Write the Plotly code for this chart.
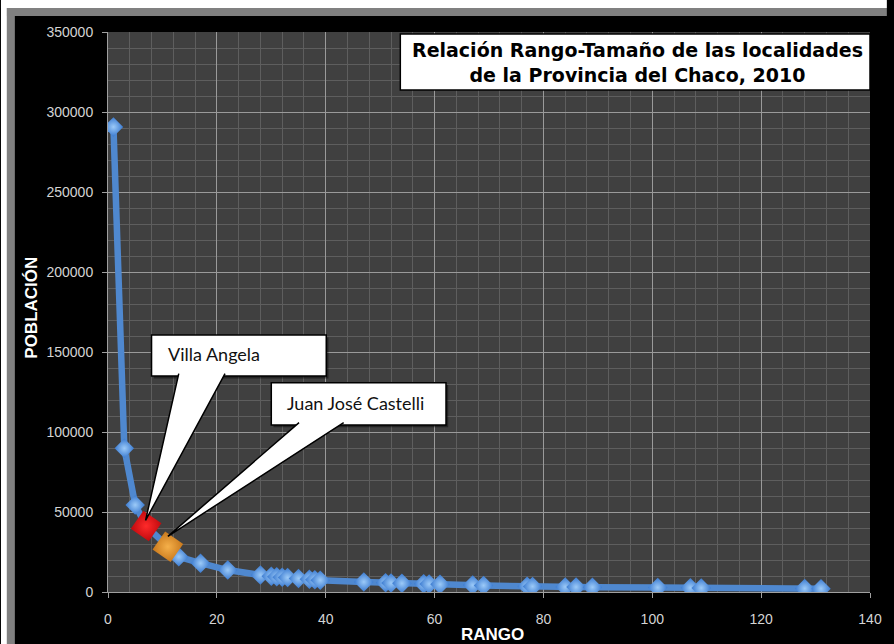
import plotly.graph_objects as go

# Rank-size data for the localities of Chaco province (2010)
rango = [1, 3, 5, 7, 11, 13, 17, 22, 28, 30, 31, 32, 33, 35, 37, 38, 39,
         47, 51, 52, 54, 58, 59, 61, 67, 69, 77, 78, 84, 86, 89, 101, 107,
         109, 128, 131]
poblacion = [290700, 89800, 54400, 41250, 28300, 22000, 18000, 13700, 10600,
             9800, 9500, 9200, 9000, 8500, 8000, 7700, 7400, 6300, 5800, 5600,
             5400, 5100, 5000, 4800, 4300, 4100, 3600, 3500, 3200, 3100, 3000,
             2800, 2600, 2500, 2200, 2100]

# Highlighted localities
destacadas = ["Villa Angela", "Juan José Castelli"]
destacadas_rango = [7, 11]
destacadas_pob = [41250, 28300]
destacadas_color = ["#ff2a2a", "#f5b04a"]
destacadas_sombra = ["#c00a0e", "#c8781c"]

x_ticks = [0, 20, 40, 60, 80, 100, 120, 140]
y_ticks = [0, 50000, 100000, 150000, 200000, 250000, 300000, 350000]

W, H = 894, 644
ML, MR, MT, MB = 108, 17, 32, 52


def px(x):
    return (x - ML) / (W - ML - MR)


def py(y):
    return (H - MB - y) / (H - MT - MB)


fig = go.Figure()

fig.add_trace(go.Scatter(
    x=rango, y=poblacion, mode="lines+markers",
    line=dict(color="#4f88cf", width=6.5),
    marker=dict(symbol="diamond", size=15, color="#3a7ad0",
                gradient=dict(type="radial", color="#9ccaf8"),
                line=dict(width=0)),
    showlegend=False, hoverinfo="x+y"))

for nombre, xr, yr, c, s in zip(destacadas, destacadas_rango, destacadas_pob,
                                destacadas_color, destacadas_sombra):
    fig.add_trace(go.Scatter(
        x=[xr], y=[yr], mode="markers", name=nombre,
        marker=dict(symbol="square", size=22, angle=35, color=s,
                    gradient=dict(type="radial", color=c),
                    line=dict(width=0)),
        showlegend=False))

shapes = []
annotations = []

# Callouts: box (data coords) + wedge pointing at the marker
callouts = [
    dict(texto=destacadas[0], x0=8.0, x1=40.1, y0=135000, y1=160600,
         b0=13.0, b1=21.5, tip=(destacadas_rango[0] - 0.1, destacadas_pob[0] + 3500)),
    dict(texto=destacadas[1], x0=30.0, x1=62.1, y0=104400, y1=130800,
         b0=35.1, b1=43.3, tip=(destacadas_rango[1], destacadas_pob[1] + 6500)),
]
for c in callouts:
    shapes.append(dict(type="rect", xref="x", yref="y", x0=c["x0"] + 0.4,
                       x1=c["x1"] + 0.4, y0=c["y0"] - 1500, y1=c["y1"] - 1500,
                       fillcolor="rgba(0,0,0,0.45)", line=dict(width=0)))
    shapes.append(dict(type="rect", xref="x", yref="y", x0=c["x0"], x1=c["x1"],
                       y0=c["y0"], y1=c["y1"], fillcolor="white",
                       line=dict(color="black", width=1.5)))
    yb = c["y0"] + 1500
    tx, ty = c["tip"]
    shapes.append(dict(type="path", xref="x", yref="y",
                       path=f"M {c['b0']} {yb} L {tx} {ty} L {c['b1']} {yb}",
                       fillcolor="white", line=dict(color="black", width=1.5)))
    annotations.append(dict(xref="x", yref="y", x=c["x0"] + 2.6,
                            y=(c["y0"] + c["y1"]) / 2 + 800, text=c["texto"],
                            showarrow=False, xanchor="left", yanchor="middle",
                            font=dict(family="Lato", size=18, color="#111111")))

# Title box
shapes.append(dict(type="rect", xref="paper", yref="paper", x0=px(403), x1=px(877),
                   y0=py(90), y1=py(34), fillcolor="white",
                   line=dict(color="black", width=1.5)))
annotations.append(dict(xref="paper", yref="paper", x=px(642), y=py(62),
                        text="<b>Relación Rango-Tamaño de las localidades<br>de la Provincia del Chaco, 2010</b>",
                        showarrow=False, xanchor="center", yanchor="middle",
                        font=dict(family="DejaVu Sans", size=19, color="black"),
                        align="center"))

# Axis titles
annotations.append(dict(xref="paper", yref="paper", x=px(496), y=py(634),
                        text="<b>RANGO</b>", showarrow=False, xanchor="center",
                        yanchor="middle",
                        font=dict(family="Liberation Sans", size=17, color="white")))
annotations.append(dict(xref="paper", yref="paper", x=px(30), y=py(308),
                        text="<b>POBLACIÓN</b>", showarrow=False, textangle=-90,
                        xanchor="center", yanchor="middle",
                        font=dict(family="Liberation Sans", size=17, color="white")))

# Outer frame strips
frame = [
    (0, 0, W, 8, "white"), (0, 0, 6, H, "white"),
    (6, 8, W, 16, "#808080"), (6, 8, 14, H, "#808080"),
]
for x0, y0, x1, y1, col in frame:
    shapes.append(dict(type="rect", xref="paper", yref="paper", x0=px(x0),
                       x1=px(x1), y0=py(y1), y1=py(y0), fillcolor=col,
                       line=dict(width=0), layer="above"))

fig.update_layout(
    width=W, height=H,
    margin=dict(l=ML, r=MR, t=MT, b=MB),
    paper_bgcolor="black", plot_bgcolor="#404040",
    shapes=shapes, annotations=annotations, showlegend=False,
    font=dict(family="Liberation Sans", size=14, color="#d4d4d4"),
)
fig.update_xaxes(
    range=[0, 140], tickvals=x_ticks, ticks="outside", ticklen=5,
    tickcolor="#a0a0a0", showline=True, linecolor="#a0a0a0", linewidth=1,
    showgrid=True, gridcolor="#9a9a9a", gridwidth=1, zeroline=False,
    ticklabelstandoff=9,
    minor=dict(dtick=4, showgrid=True, gridcolor="#5e5e5e", gridwidth=1),
)
fig.update_yaxes(
    range=[0, 350000], tickvals=y_ticks, ticks="outside", ticklen=5,
    tickcolor="#a0a0a0", showline=True, linecolor="#a0a0a0", linewidth=1,
    showgrid=True, gridcolor="#9a9a9a", gridwidth=1, zeroline=False,
    tickformat="d", ticklabelstandoff=6,
    minor=dict(dtick=10000, showgrid=True, gridcolor="#5e5e5e", gridwidth=1),
)

fig.write_html("out.html")
